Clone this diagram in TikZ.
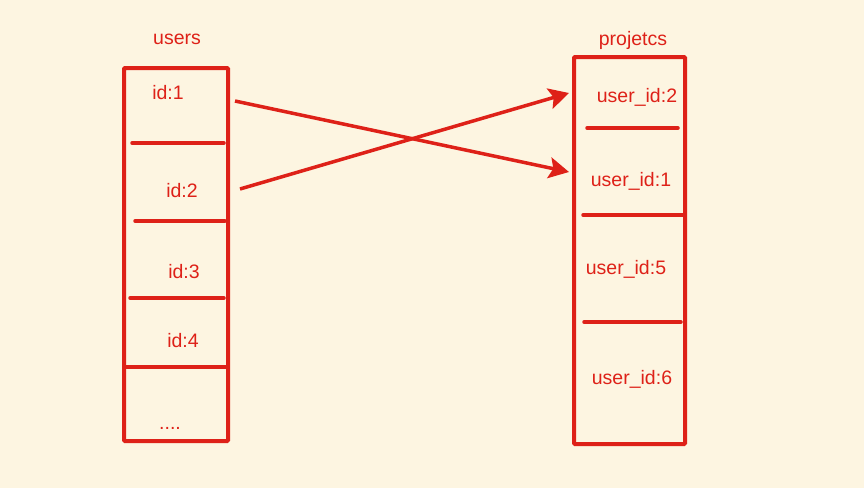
\documentclass[tikz,border=0pt]{standalone}
\usepackage{fontspec}
\setmainfont{Liberation Sans}
\usetikzlibrary{arrows.meta,positioning}
\definecolor{rouge}{RGB}{222,33,24}
\definecolor{fond}{RGB}{253,245,225}
\tikzset{
  tbl/.style={draw=rouge, line width=4pt, rounded corners=1pt},
  sep/.style={draw=rouge, line width=3.5pt, line cap=round},
  lab/.style={text=rouge, font=\fontsize{19.5}{22}\selectfont, inner sep=1pt, anchor=base},
  link/.style={draw=rouge, line width=3.5pt, -{Stealth[length=20pt,width=21pt,inset=4pt]}},
}
\begin{document}
\begin{tikzpicture}[x=1pt,y=1pt]
   \fill[fond] (0,0) rectangle (864,-488);
   \useasboundingbox (0,0) rectangle (864,-488);
   % users table
   \node[lab] (users) at (177,-44) {users};
   \draw[tbl] (124,-68) rectangle (228,-441);
   \draw[sep] (132,-143) -- (224,-143);
   \draw[sep] (135,-221) -- (225,-221);
   \draw[sep] (130,-298) -- (224,-298);
   \draw[sep] (124,-367) -- (228,-367);
   \node[lab] (id1) at (168,-99) {id:1};
   \node[lab] (id2) at (182,-197) {id:2};
   \node[lab] (id3) at (184,-278) {id:3};
   \node[lab] (id4) at (183,-347) {id:4};
   \node[lab] (more) at (170,-429) {....};
   % projetcs table
   \node[lab] (projetcs) at (633,-45) {projetcs};
   \draw[tbl] (574,-57) rectangle (685,-444);
   \draw[sep] (587,-128) -- (678,-128);
   \draw[sep] (583,-215) -- (685,-215);
   \draw[sep] (584,-322) -- (681,-322);
   \node[lab] (uid2) at (637,-102) {user\_id:2};
   \node[lab] (uid1) at (631,-186) {user\_id:1};
   \node[lab] (uid5) at (626,-274) {user\_id:5};
   \node[lab] (uid6) at (632,-384) {user\_id:6};
   % links
   \coordinate (s1) at (235,-101);
   \coordinate (t1) at (569,-172);
   \coordinate (s2) at (240,-189);
   \coordinate (t2) at (569,-93);
   \draw[link] (s1) -- (t1);
   \draw[link] (s2) -- (t2);
\end{tikzpicture}
\end{document}
